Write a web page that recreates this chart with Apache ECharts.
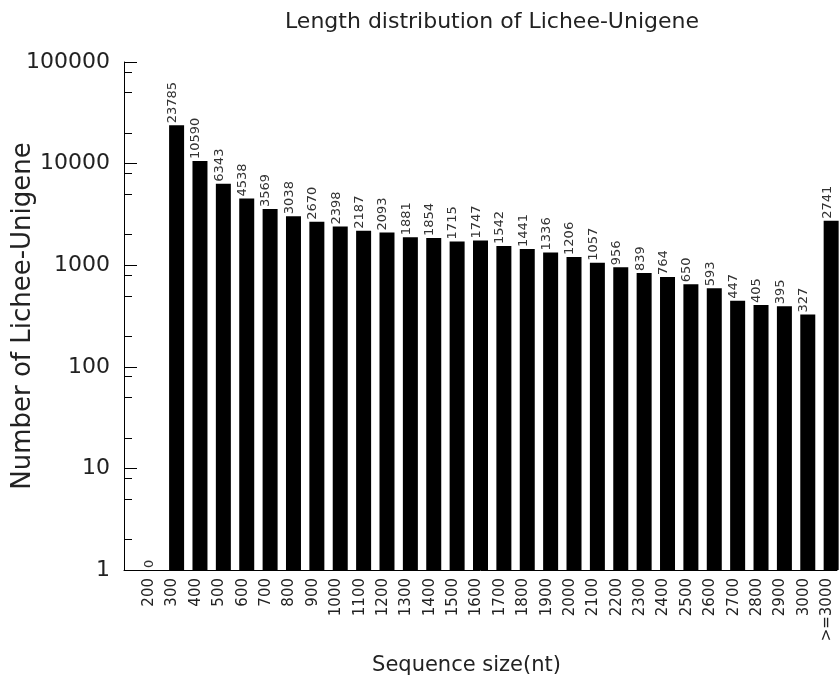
<!DOCTYPE html>
<html lang="en">
<head>
    <meta charset="UTF-8">
    <title>Length distribution</title>
    <script src="https://cdn.jsdelivr.net/npm/echarts@6.0.0/dist/echarts.min.js"></script>
    <style>
        html, body { margin: 0; padding: 0; background: #fff; }
        #main { width: 840px; height: 681px; }
    </style>
</head>
<body>
<div id="main"></div>
<script>
    // 数据
    var sizes = ['200', '300', '400', '500', '600', '700', '800', '900', '1000', '1100',
        '1200', '1300', '1400', '1500', '1600', '1700', '1800', '1900', '2000', '2100',
        '2200', '2300', '2400', '2500', '2600', '2700', '2800', '2900', '3000', '>=3000'];
    var counts = [0, 23785, 10590, 6343, 4538, 3569, 3038, 2670, 2398, 2187,
        2093, 1881, 1854, 1715, 1747, 1542, 1441, 1336, 1206, 1057,
        956, 839, 764, 650, 593, 447, 405, 395, 327, 2741];
    // y轴小刻度 (每个数量级的2,5,8)
    var minorTicks = [2, 5, 8, 20, 50, 80, 200, 500, 800, 2000, 5000, 8000, 20000, 50000, 80000];

    var font = 'DejaVu Sans';

    // 对数轴不能画0，0值放在底线上并标"0"
    var barData = counts.map(function (v, i) {
        if (v > 0) return [i, v];
        return {value: [i, 1], label: {formatter: '0'}};
    });

    var gridPos = {left: 124, right: 3, top: 62, bottom: 111, outerBoundsMode: 'none'};

    var chart = echarts.init(document.getElementById('main'));
    chart.setOption({
        animation: false,
        backgroundColor: '#fff',
        title: {
            text: 'Length distribution of Lichee-Unigene',
            left: 487,
            top: 6,
            textAlign: 'center',
            textStyle: {fontFamily: font, fontSize: 22, fontWeight: 'normal', color: '#222'}
        },
        grid: [gridPos, gridPos],
        xAxis: [{
            type: 'value',
            gridIndex: 0,
            min: -1.25,
            max: 29.25,
            interval: 0.25,
            name: 'Sequence size(nt)',
            nameLocation: 'middle',
            nameGap: 85,
            nameMoveOverlap: false,
            nameTextStyle: {fontFamily: font, fontSize: 21, color: '#222', padding: [0, 28, 0, 0]},
            axisLine: {onZero: false, lineStyle: {color: '#000', width: 1}},
            axisTick: {show: false},
            splitLine: {show: false},
            axisLabel: {
                rotate: 90,
                margin: 8,
                verticalAlign: 'bottom',
                lineHeight: 8,
                fontFamily: font,
                fontSize: 15,
                color: '#222',
                showMinLabel: false,
                showMaxLabel: false,
                formatter: function (v) {
                    return (v >= 0 && v % 1 === 0) ? sizes[v] : '';
                }
            }
        }, {
            type: 'value',
            gridIndex: 1,
            min: -1.25,
            max: 29.25,
            show: false
        }],
        yAxis: [{
            type: 'log',
            gridIndex: 0,
            logBase: 10,
            min: 1,
            max: 100000,
            name: 'Number of Lichee-Unigene',
            nameLocation: 'middle',
            nameGap: 88,
            nameMoveOverlap: false,
            nameTextStyle: {fontFamily: font, fontSize: 26, color: '#222'},
            axisLine: {show: true, onZero: false, lineStyle: {color: '#000', width: 1}},
            axisTick: {show: true, inside: true, length: 13, lineStyle: {color: '#000'}},
            splitLine: {show: false},
            axisLabel: {fontFamily: font, fontSize: 22, color: '#222', margin: 14,
                formatter: function (v) { return String(v); }}
        }, {
            // 小刻度
            type: 'log',
            gridIndex: 1,
            logBase: 10,
            min: 1,
            max: 100000,
            axisLine: {show: false, onZero: false},
            axisLabel: {show: false},
            splitLine: {show: false},
            axisTick: {show: true, inside: true, length: 8, lineStyle: {color: '#000'},
                customValues: minorTicks}
        }],
        series: [{
            type: 'bar',
            xAxisIndex: 0,
            yAxisIndex: 0,
            data: barData,
            barWidth: 15,
            itemStyle: {color: '#000'},
            label: {
                show: true,
                position: 'top',
                rotate: 90,
                align: 'left',
                verticalAlign: 'bottom',
                lineHeight: 8,
                distance: 2,
                fontFamily: font,
                fontSize: 13,
                color: '#333',
                formatter: function (p) { return String(p.value[1]); }
            }
        }]
    });
</script>
</body>
</html>
